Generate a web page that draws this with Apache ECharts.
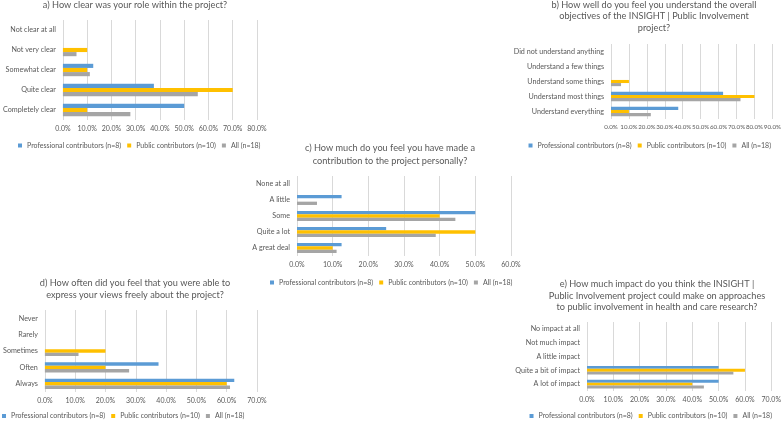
<!DOCTYPE html>
<html>
<head>
<meta charset="utf-8">
<script src="https://cdn.jsdelivr.net/npm/echarts@6/dist/echarts.min.js"></script>
<style>
html,body{margin:0;padding:0;background:#fff;}
#chart{width:784px;height:422px;}
</style>
</head>
<body>
<div id="chart"></div>
<script>
// ---- Data ----
const seriesNames = ['Professional contributors (n=8)', 'Public contributors (n=10)', 'All (n=18)'];

const catsA = ['Completely clear', 'Quite clear', 'Somewhat clear', 'Not very clear', 'Not clear at all'];
const profA = [50, 37.5, 12.5, 0, 0];
const pubA  = [10, 70, 10, 10, 0];
const allA  = [27.8, 55.6, 11.1, 5.6, 0];

const catsB = ['Understand everything', 'Understand most things', 'Understand some things', 'Understand a few things', 'Did not understand anything'];
const profB = [37.5, 62.5, 0, 0, 0];
const pubB  = [10, 80, 10, 0, 0];
const allB  = [22.2, 72.2, 5.6, 0, 0];

const catsC = ['A great deal', 'Quite a lot', 'Some', 'A little', 'None at all'];
const profC = [12.5, 25, 50, 12.5, 0];
const pubC  = [10, 50, 40, 0, 0];
const allC  = [11.1, 38.9, 44.4, 5.6, 0];

const catsD = ['Always', 'Often', 'Sometimes', 'Rarely', 'Never'];
const profD = [62.5, 37.5, 0, 0, 0];
const pubD  = [60, 20, 20, 0, 0];
const allD  = [61.1, 27.8, 11.1, 0, 0];

const catsE = ['A lot of impact', 'Quite a bit of impact', 'A little impact', 'Not much impact', 'No impact at all'];
const profE = [50, 50, 0, 0, 0];
const pubE  = [40, 60, 0, 0, 0];
const allE  = [44.4, 55.6, 0, 0, 0];

const titleA = 'a) How clear was your role within the project?';
const titleB = 'b) How well do you feel you understand the overall\nobjectives of the INSIGHT | Public Involvement\nproject?';
const titleC = 'c) How much do you feel you have made a\ncontribution to the project personally?';
const titleD = 'd) How often did you feel that you were able to\nexpress your views freely about the project?';
const titleE = 'e) How much impact do you think the INSIGHT |\nPublic Involvement project could make on approaches\nto public involvement in health and care research?';

const axisMaxA = 80, axisMaxB = 90, axisMaxC = 60, axisMaxD = 70, axisMaxE = 70;

// ---- Layout / style ----
const FONT = 'Lato, "Open Sans", sans-serif';
const TXT = '#595959';
const colors = ['#5B9BD5', '#FFC000', '#A5A5A5'];

const panels = [
  {cats: catsA, vals: [profA, pubA, allA], max: axisMaxA, title: titleA, xfs: 7,
   grid: {left: 59, top: 20, width: 198, height: 100}, tx: 135, ty: -0.5, lh: 11, lg: {left: 18, top: 142}},
  {cats: catsB, vals: [profB, pubB, allB], max: axisMaxB, title: titleB, xfs: 6.2,
   grid: {left: 611, top: 44, width: 163, height: 75}, tx: 654, ty: -1, lh: 11.5, lg: {right: 13, top: 142}},
  {cats: catsC, vals: [profC, pubC, allC], max: axisMaxC, title: titleC, xfs: 7,
   grid: {left: 297, top: 176, width: 214, height: 80}, tx: 390, ty: 142, lh: 13, lg: {left: 270, top: 279}},
  {cats: catsD, vals: [profD, pubD, allD], max: axisMaxD, title: titleD, xfs: 7,
   grid: {left: 42, top: 310, width: 215, height: 82}, tx: 135, ty: 277.5, lh: 11.7, lg: {left: 2, top: 412.5}},
  {cats: catsE, vals: [profE, pubE, allE], max: axisMaxE, title: titleE, xfs: 7,
   grid: {left: 587, top: 322, width: 188, height: 69}, tx: 657, ty: 278, lh: 11.7, lg: {right: 12, top: 412.5}}
];

const option = {
  animation: false,
  backgroundColor: '#fff',
  color: colors,
  textStyle: {fontFamily: FONT},
  grid: [], xAxis: [], yAxis: [], series: [], legend: [], graphic: []
};

panels.forEach((p, i) => {
  option.grid.push(Object.assign({containLabel: false}, p.grid));
  option.xAxis.push({
    type: 'value', gridIndex: i, min: 0, max: p.max, interval: 10,
    axisLine: {show: false}, axisTick: {show: false},
    splitLine: {show: true, lineStyle: {color: '#D9D9D9', width: 1}},
    axisLabel: {color: TXT, fontSize: p.xfs, fontFamily: FONT, margin: 5.5,
      showMinLabel: true, showMaxLabel: true, hideOverlap: false,
      formatter: v => v.toFixed(1) + '%'}
  });
  option.yAxis.push({
    type: 'category', gridIndex: i, data: p.cats,
    axisLine: {show: false}, axisTick: {show: false},
    axisLabel: {color: TXT, fontSize: 7.2, fontFamily: FONT, margin: 7, interval: 0}
  });
  p.vals.forEach((arr, s) => {
    option.series.push({
      type: 'bar', name: seriesNames[s], xAxisIndex: i, yAxisIndex: i,
      data: arr, barGap: '0%', barCategoryGap: '38%',
      itemStyle: {color: colors[s]}
    });
  });
  option.legend.push(Object.assign({
    data: seriesNames,
    itemWidth: 4, itemHeight: 4, itemGap: 6, padding: 0,
    icon: 'rect',
    textStyle: {color: TXT, fontSize: 7, fontFamily: FONT}
  }, p.lg));
  option.graphic.push({
    type: 'text', x: p.tx, y: p.ty, silent: true,
    style: {text: p.title, align: 'center', verticalAlign: 'top',
      fontSize: 9.2, fontFamily: FONT, fill: TXT, lineHeight: p.lh}
  });
});

const chart = echarts.init(document.getElementById('chart'), null, {renderer: 'canvas'});
chart.setOption(option);
</script>
</body>
</html>
